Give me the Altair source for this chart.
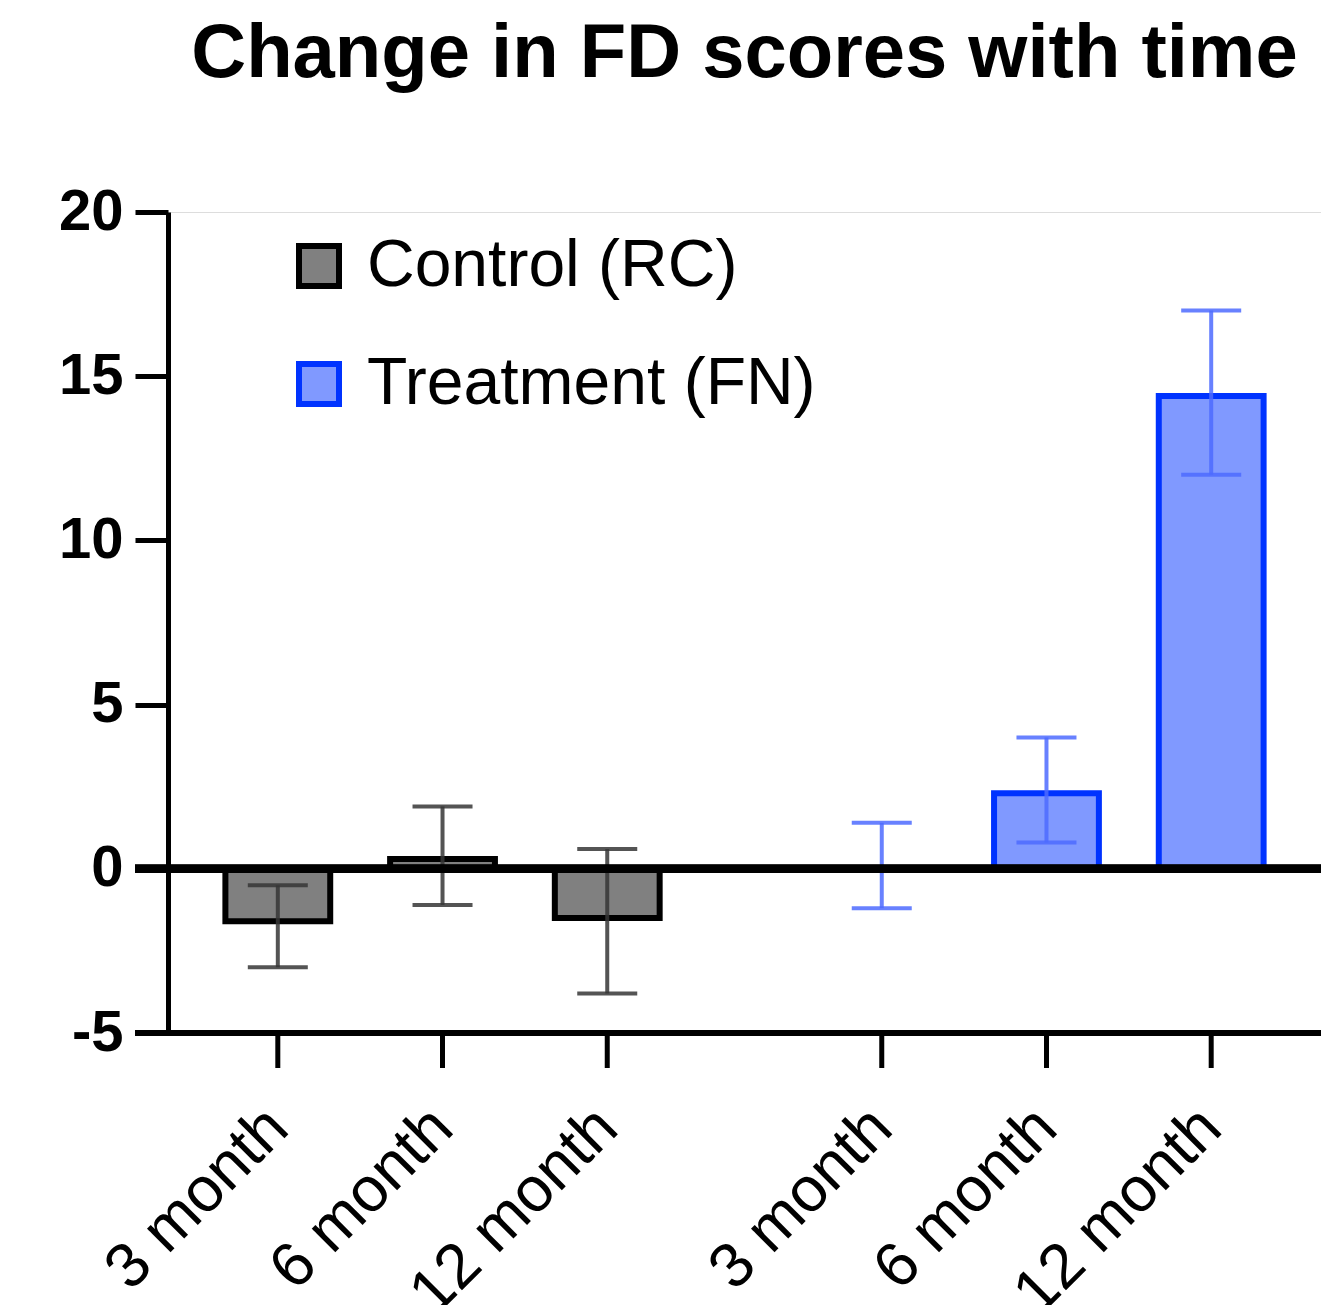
import altair as alt
import pandas as pd

groups = ["Control (RC)", "Treatment (FN)"]
times = ["3 month", "6 month", "12 month"]
control_mean = [-1.6, 0.3, -1.5]
control_upper = [-0.5, 1.9, 0.6]
control_lower = [-3.0, -1.1, -3.8]
treat_mean = [0.0, 2.3, 14.4]
treat_upper = [1.4, 4.0, 17.0]
treat_lower = [-1.2, 0.8, 12.0]
y_ticks = [-5, 0, 5, 10, 15, 20]

rows = []
for g, means, ups, lows in [
    (groups[0], control_mean, control_upper, control_lower),
    (groups[1], treat_mean, treat_upper, treat_lower),
]:
    for t, m, u, l in zip(times, means, ups, lows):
        rows.append(dict(group=g, time=t, mean=m, upper=u, lower=l))
df = pd.DataFrame(rows)

W, H = 1153, 821
FONT = "Liberation Sans"

x = alt.X("group:N", sort=groups, axis=None,
          scale=alt.Scale(paddingInner=0.1818, paddingOuter=0.04545))
xo = alt.XOffset("time:N", sort=times,
                 scale=alt.Scale(paddingInner=0.3636, paddingOuter=0.1818))
y_scale = alt.Scale(domain=[-5, 20], nice=False, zero=False)

legend = alt.Legend(
    orient="none", legendX=118, legendY=21, title=None,
    symbolType="square", symbolSize=1600, symbolStrokeWidth=6,
    labelFontSize=66, labelFont=FONT, labelColor="black",
    rowPadding=52, labelOffset=15, padding=0, labelLimit=1000,
)
fill = alt.Fill("group:N", scale=alt.Scale(domain=groups, range=["#808080", "#8099ff"]), legend=legend)
stroke = alt.Stroke("group:N", scale=alt.Scale(domain=groups, range=["#000000", "#0033ff"]), legend=legend)

err_color = alt.condition(alt.datum.group == groups[0], alt.value("#363636"), alt.value("#4d6bff"))

base = alt.Chart(df)

bars = base.mark_bar(strokeWidth=6).encode(
    x=x, xOffset=xo,
    y=alt.Y("mean:Q", scale=y_scale, stack=None,
            axis=alt.Axis(values=y_ticks, title=None, grid=False,
                          domainColor="black", domainWidth=5,
                          tickColor="black", tickWidth=5, tickSize=33,
                          labelFontSize=58, labelFontWeight="bold",
                          labelColor="black", labelPadding=12, labelFont=FONT,
                          labelExpr="toString(datum.value)")),
    y2=alt.datum(0),
    fill=fill, stroke=stroke,
)

err = base.mark_rule(strokeWidth=4, opacity=0.85).encode(
    x=x, xOffset=xo, y="lower:Q", y2="upper:Q", color=err_color)
cap_hi = base.mark_tick(thickness=4, size=60, orient="horizontal", opacity=0.85).encode(
    x=x, xOffset=xo, y="upper:Q", color=err_color)
cap_lo = base.mark_tick(thickness=4, size=60, orient="horizontal", opacity=0.85).encode(
    x=x, xOffset=xo, y="lower:Q", color=err_color)

zero_line = base.mark_rule(strokeWidth=8, color="black").encode(
    y=alt.datum(0), x=alt.value(-33), x2=alt.value(W + 20))
x_axis_line = base.mark_rule(strokeWidth=6, color="black").encode(
    y=alt.value(H), x=alt.value(-33), x2=alt.value(W + 20))
x_ticks = base.mark_rule(strokeWidth=5, color="black").encode(
    x=x, xOffset=xo, y=alt.value(H), y2=alt.value(H + 35))
x_labels = base.mark_text(angle=315, align="right", baseline="middle",
                          fontSize=63, font=FONT, color="black").encode(
    x=x, xOffset=xo, y=alt.value(H + 85), text="time:N")

chart = alt.layer(bars, err, cap_hi, cap_lo, zero_line, x_axis_line, x_ticks, x_labels).properties(
    width=W, height=H,
    title=alt.TitleParams("Change in FD scores with time", fontSize=76, fontWeight="bold",
                          anchor="middle", frame="group", offset=30, baseline="alphabetic",
                          color="black", font=FONT),
    autosize=alt.AutoSizeParams(type="none"),
    padding={"left": 160, "top": 204, "right": 0, "bottom": 272},
).configure_view(stroke="transparent").configure(font=FONT)

chart.save("out.html", embed_options={"renderer": "svg", "actions": False})
